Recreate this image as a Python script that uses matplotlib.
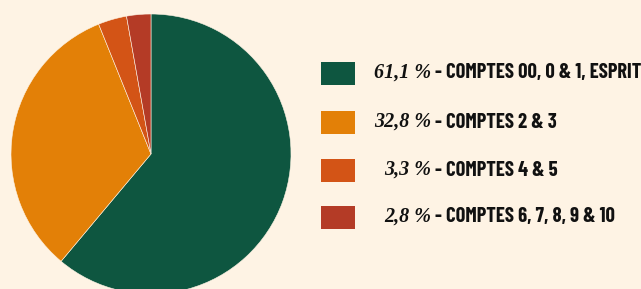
import matplotlib
matplotlib.use("Agg")
import matplotlib.pyplot as plt
from matplotlib.patches import Rectangle

labels = ["COMPTES 00, 0 & 1, ESPRIT", "COMPTES 2 & 3", "COMPTES 4 & 5", "COMPTES 6, 7, 8, 9 & 10"]
values = [61.1, 32.8, 3.3, 2.8]
pct_labels = ["61,1 %", "32,8 %", "3,3 %", "2,8 %"]
colors = ["#0E5640", "#E38007", "#D35416", "#B43B26"]
bg = "#FEF3E4"

W, H = 641, 289
fig = plt.figure(figsize=(W/100, H/100), dpi=100, facecolor=bg)
ax = fig.add_axes([11/W, -5/H, 280/W, 280/H])
ax.set_facecolor(bg)
ax.pie(values, colors=colors, startangle=90, counterclock=False, radius=1,
       wedgeprops=dict(edgecolor=bg, linewidth=0.4))
ax.set_xlim(-1, 1); ax.set_ylim(-1, 1)
ax.set_aspect("equal")
ax.axis("off")

row_y = [73, 122, 170, 217]
for i, (lab, pl, c) in enumerate(zip(labels, pct_labels, colors)):
    y = row_y[i]
    fig.patches.append(Rectangle((321/W, (H - y - 11.5)/H), 34/W, 23/H,
                                 transform=fig.transFigure, facecolor=c, edgecolor="none"))
    fig.text(431/W, (H - y)/H, pl, ha="right", va="center", fontsize=14.5,
             family="Liberation Serif", style="italic", weight="bold", color="#111111")
    fig.text(435/W, (H - y)/H, "- " + lab, ha="left", va="center", fontsize=14.8,
             family=["Barlow Condensed", "Roboto Condensed", "DejaVu Sans"],
             weight="bold", color="#111111")

fig.savefig("out.png", dpi=100, facecolor=bg)
